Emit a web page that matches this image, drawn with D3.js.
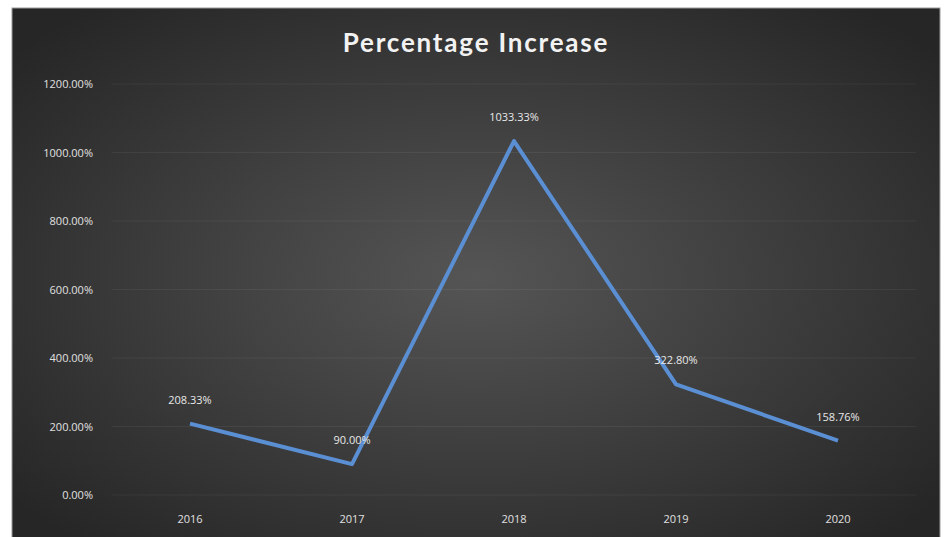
<!DOCTYPE html>
<html lang="en">
<head>
    <meta charset="UTF-8">
    <script src="https://cdn.jsdelivr.net/npm/d3@7"></script>
    <title>Percentage Increase</title>
    <style>
        body { margin: 0; background: #fff; }
        svg { display: block; }
        .tick text { font-family: "Open Sans", sans-serif; }
    </style>
</head>
<body>
<svg id="chart"></svg>
<script>
    var years = ["2016", "2017", "2018", "2019", "2020"];
    var increase = [208.33, 90.00, 1033.33, 322.80, 158.76];
    var yTicks = [0, 200, 400, 600, 800, 1000, 1200];

    var width = 944, height = 537;
    var svg = d3.select("#chart").attr("width", width).attr("height", height);

    var defs = svg.append("defs");
    var grad = defs.append("radialGradient").attr("id", "bg")
            .attr("cx", "50%").attr("cy", "50%").attr("r", "65%");
    grad.append("stop").attr("offset", "0%").attr("stop-color", "#555555");
    grad.append("stop").attr("offset", "100%").attr("stop-color", "#262626");

    // chart area
    svg.append("rect")
            .attr("x", 12).attr("y", 8)
            .attr("width", 928).attr("height", 540)
            .attr("fill", "url(#bg)")
            .attr("stroke", "#9a9a9a").attr("stroke-width", 1);

    var x = d3.scaleBand().domain(years).range([109, 919]);
    var y = d3.scaleLinear().domain([0, 1200]).range([495, 84]);

    // gridlines
    svg.append("g")
            .selectAll("line")
            .data(yTicks)
            .enter().append("line")
            .attr("x1", 112).attr("x2", 916)
            .attr("y1", function (d) { return y(d); })
            .attr("y2", function (d) { return y(d); })
            .attr("stroke", "rgba(255,255,255,0.06)")
            .attr("stroke-width", 1);

    var yAxis = svg.append("g")
            .attr("transform", "translate(96,0)")
            .call(d3.axisLeft(y).tickValues(yTicks).tickSize(0)
                    .tickFormat(function (d) { return d.toFixed(2) + "%"; }));
    yAxis.select(".domain").remove();
    yAxis.selectAll("text").attr("fill", "#e0e0e0").attr("font-size", 11);

    var xAxis = svg.append("g")
            .attr("transform", "translate(0,512)")
            .call(d3.axisBottom(x).tickSize(0));
    xAxis.select(".domain").remove();
    xAxis.selectAll("text").attr("fill", "#e0e0e0").attr("font-size", 11);

    var line = d3.line()
            .x(function (d, i) { return x(years[i]) + x.bandwidth() / 2; })
            .y(function (d) { return y(d); });

    svg.append("path")
            .datum(increase)
            .attr("d", line)
            .attr("fill", "none")
            .attr("stroke", "#5b8fd4")
            .attr("stroke-width", 4)
            .attr("stroke-linejoin", "round");

    svg.append("g")
            .selectAll("text")
            .data(increase)
            .enter().append("text")
            .attr("x", function (d, i) { return x(years[i]) + x.bandwidth() / 2; })
            .attr("y", function (d) { return y(d) - 20; })
            .attr("text-anchor", "middle")
            .attr("font-family", "Open Sans, sans-serif")
            .attr("font-size", 11)
            .attr("fill", "#e8e8e8")
            .text(function (d) { return d.toFixed(2) + "%"; });

    svg.append("text")
            .attr("x", 476).attr("y", 52)
            .attr("text-anchor", "middle")
            .attr("font-family", "Lato, sans-serif")
            .attr("font-weight", "bold")
            .attr("font-size", 26)
            .attr("letter-spacing", 1.8)
            .attr("fill", "#f2f2f2")
            .text("Percentage Increase");
</script>
</body>
</html>
